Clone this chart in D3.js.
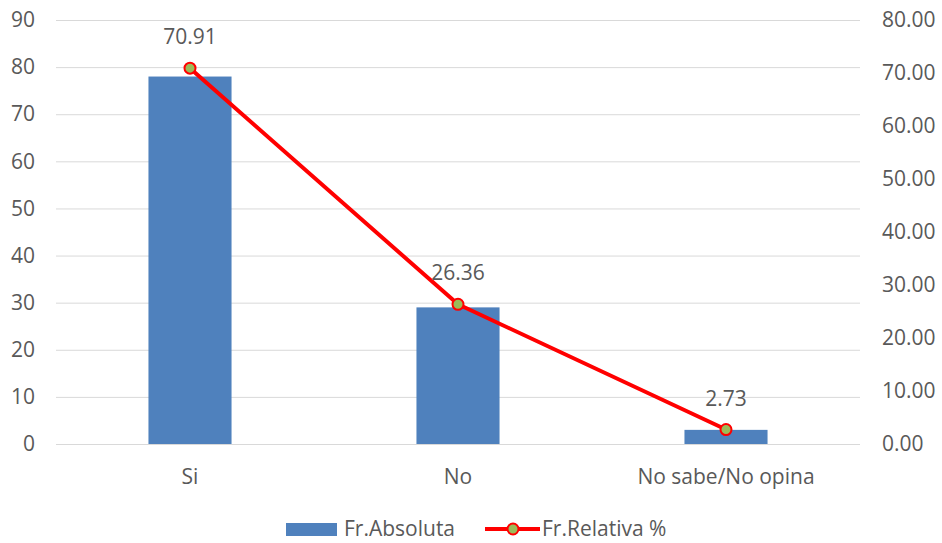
<!DOCTYPE html>
<html>
<head>
<meta charset="utf-8">
<script src="https://cdn.jsdelivr.net/npm/d3@7"></script>
<style>
  html, body { margin: 0; padding: 0; background: #fff; }
  svg { display: block; }
  svg text { font-family: "Open Sans", "Noto Sans", sans-serif; }
</style>
</head>
<body>
<svg id="chart" width="942" height="543"></svg>
<script>
// Survey responses: absolute counts and relative percentages
const categories = ["Si", "No", "No sabe/No opina"];
const absoluta = [78, 29, 3];
const relativa = [70.91, 26.36, 2.73];
const leftTicks = [0, 10, 20, 30, 40, 50, 60, 70, 80, 90];
const rightTicks = [0, 10, 20, 30, 40, 50, 60, 70, 80];
const seriesNames = ["Fr.Absoluta", "Fr.Relativa %"];

const svg = d3.select("#chart");
const plot = { left: 56, right: 860, top: 20, bottom: 444 };
const textColor = "#595959";
const fontSize = 21;
const font = "'Open Sans', 'Noto Sans', sans-serif";

const x = d3.scaleBand().domain(categories).range([plot.left, plot.right]).padding(0);
const yL = d3.scaleLinear().domain([0, 90]).range([plot.bottom, plot.top]);
const yR = d3.scaleLinear().domain([0, 80]).range([plot.bottom, plot.top]);
const barW = x.bandwidth() * 0.31;
const cx = c => x(c) + x.bandwidth() / 2;

function styleAxis(g) {
  g.attr("font-family", font).attr("font-size", fontSize);
  g.select(".domain").remove();
  g.selectAll("text").attr("fill", textColor);
}

// gridlines
svg.append("g").selectAll("line").data(leftTicks).join("line")
  .attr("x1", plot.left).attr("x2", plot.right)
  .attr("y1", d => yL(d) + 0.5).attr("y2", d => yL(d) + 0.5)
  .attr("stroke", "#d9d9d9").attr("stroke-width", 1);

// left axis
svg.append("g").attr("transform", `translate(${plot.left},0)`)
  .call(d3.axisLeft(yL).tickValues(leftTicks).tickSize(0).tickPadding(21).tickFormat(d3.format("d")))
  .call(styleAxis);

// right axis
svg.append("g").attr("transform", `translate(${plot.right},0)`)
  .call(d3.axisRight(yR).tickValues(rightTicks).tickSize(0).tickPadding(22).tickFormat(d3.format(".2f")))
  .call(styleAxis);

// category axis
svg.append("g").attr("transform", `translate(0,${plot.bottom})`)
  .call(d3.axisBottom(x).tickSize(0).tickPadding(25))
  .call(styleAxis);

// bars
svg.append("g").selectAll("rect").data(categories).join("rect")
  .attr("x", c => cx(c) - barW / 2)
  .attr("width", barW)
  .attr("y", (c, i) => yL(absoluta[i]))
  .attr("height", (c, i) => yL(0) - yL(absoluta[i]))
  .attr("fill", "#4f81bd");

// line series on the right axis
const line = d3.line().x((d, i) => cx(categories[i])).y(d => yR(d));
svg.append("path").datum(relativa)
  .attr("d", line).attr("fill", "none")
  .attr("stroke", "#ff0000").attr("stroke-width", 4).attr("stroke-linejoin", "round");

svg.append("g").selectAll("circle").data(relativa).join("circle")
  .attr("cx", (d, i) => cx(categories[i])).attr("cy", d => yR(d))
  .attr("r", 5.5).attr("fill", "#9bbb59").attr("stroke", "#ff0000").attr("stroke-width", 2);

// value labels
svg.append("g").attr("font-family", font).attr("font-size", fontSize)
  .selectAll("text").data(relativa).join("text")
  .attr("x", (d, i) => cx(categories[i])).attr("y", d => yR(d) - 24)
  .attr("text-anchor", "middle").attr("fill", textColor)
  .text(d => d3.format(".2f")(d));

// legend
const lg = svg.append("g").attr("transform", "translate(0,529)")
  .attr("font-family", font).attr("font-size", fontSize);
lg.append("rect").attr("x", 286).attr("y", -6).attr("width", 51).attr("height", 13).attr("fill", "#4f81bd");
lg.append("text").attr("x", 344).attr("y", 7).attr("fill", textColor).text(seriesNames[0]);
lg.append("line").attr("x1", 485).attr("x2", 540).attr("y1", 0).attr("y2", 0)
  .attr("stroke", "#ff0000").attr("stroke-width", 4);
lg.append("circle").attr("cx", 513).attr("cy", 0).attr("r", 5.5)
  .attr("fill", "#9bbb59").attr("stroke", "#ff0000").attr("stroke-width", 2);
lg.append("text").attr("x", 542).attr("y", 7).attr("fill", textColor).text(seriesNames[1]);
</script>
</body>
</html>
